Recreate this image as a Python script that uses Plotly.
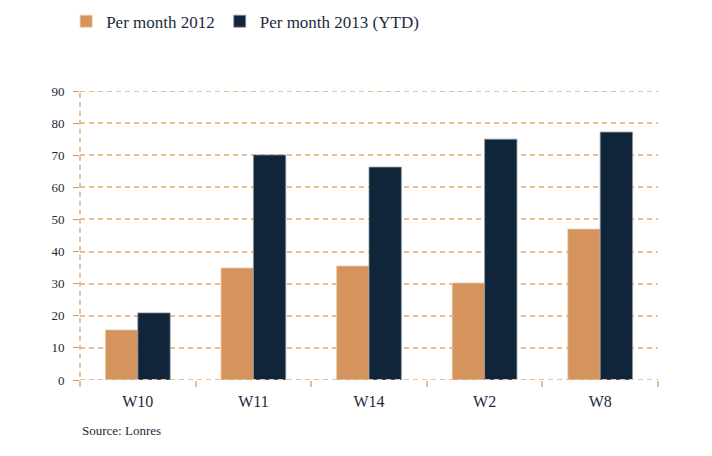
import plotly.graph_objects as go

categories = ["W10", "W11", "W14", "W2", "W8"]
per_month_2012 = [15.6, 34.9, 35.5, 30.2, 47.0]
per_month_2013_ytd = [20.9, 70.1, 66.3, 75.0, 77.2]
y_ticks = [0, 10, 20, 30, 40, 50, 60, 70, 80, 90]

orange = "#D5945E"
navy = "#10253A"
text_color = "#1C2B3C"
grid_color = "#EDBD92"

fig = go.Figure()
fig.add_trace(go.Bar(x=categories, y=per_month_2012, name="Per month 2012",
                     marker=dict(color=orange, line=dict(color="#EBC9A8", width=0.8))))
fig.add_trace(go.Bar(x=categories, y=per_month_2013_ytd, name="Per month 2013 (YTD)",
                     marker=dict(color=navy, line=dict(color="#8D98A3", width=0.8))))

fig.update_layout(
    width=712, height=456,
    margin=dict(l=72, r=62, t=83, b=84, autoexpand=False),
    paper_bgcolor="white", plot_bgcolor="white",
    font=dict(family="Liberation Serif", size=14, color=text_color),
    barmode="group", bargap=0.44, bargroupgap=0,
    showlegend=True,
    legend=dict(orientation="h", x=-0.024, xanchor="left", y=1.24, yanchor="middle",
                font=dict(size=17), itemwidth=30, traceorder="normal"),
    xaxis=dict(showgrid=False, ticks="outside", tickson="boundaries", ticklen=6,
               tickcolor=grid_color, tickwidth=1.5, showline=False, zeroline=False,
               tickfont=dict(size=16), ticklabelstandoff=10),
    yaxis=dict(range=[0, 90], tickvals=y_ticks, showgrid=True, gridcolor=grid_color,
               griddash="5px,4px", gridwidth=1.8, zeroline=False, showline=False,
               ticks="outside", ticklen=6, tickcolor=orange, tickfont=dict(size=13),
               ticklabelstandoff=6),
    shapes=[dict(type="line", xref="paper", yref="paper", x0=0, x1=0, y0=-0.02, y1=1,
                 line=dict(color=orange, width=1.2, dash="5px,4px"), layer="below"),
            dict(type="line", xref="paper", yref="y", x0=0, x1=1, y0=0, y1=0,
                 line=dict(color=grid_color, width=2, dash="5px,4px"), layer="above"),
            dict(type="line", xref="paper", yref="y", x0=0, x1=1, y0=y_ticks[-1], y1=y_ticks[-1],
                 line=dict(color=grid_color, width=1.8, dash="5px,4px"), layer="below")],
    annotations=[dict(text="Source: Lonres", xref="paper", yref="paper", x=0, y=-0.175,
                      xanchor="left", yanchor="middle", showarrow=False,
                      font=dict(size=13, color=text_color))],
)

fig.write_html("out.html")
